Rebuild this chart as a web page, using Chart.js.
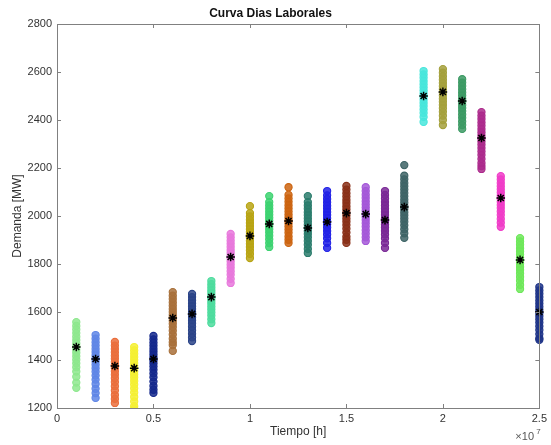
<!DOCTYPE html>
<html>
<head>
<meta charset="utf-8">
<script src="https://cdn.jsdelivr.net/npm/chart.js@4/dist/chart.umd.min.js"></script>
<style>
  body { margin: 0; background: #fff; }
  #grafico { display: block; }
</style>
</head>
<body>
<canvas id="grafico" width="551" height="445"></canvas>
<script>
// Posición de cada columna en el eje X (tiempo en horas)
const tiempo = [1e6, 2e6, 3e6, 4e6, 5e6, 6e6, 7e6, 8e6, 9e6, 10e6, 11e6, 12e6, 13e6,
                14e6, 15e6, 16e6, 17e6, 18e6, 19e6, 20e6, 21e6, 22e6, 23e6, 24e6, 25e6];

const demanda = [
  [1558, 1542, 1527, 1512, 1497, 1483, 1469, 1456, 1443, 1430, 1416, 1401, 1386, 1370, 1352, 1330, 1306, 1284],
  [1504, 1489, 1474, 1460, 1446, 1433, 1420, 1407, 1394, 1380, 1366, 1351, 1335, 1318, 1300, 1280, 1262, 1242],
  [1475, 1460, 1446, 1432, 1418, 1405, 1392, 1379, 1366, 1353, 1339, 1324, 1308, 1291, 1273, 1254, 1238, 1221],
  [1454, 1440, 1426, 1413, 1400, 1388, 1376, 1364, 1352, 1340, 1327, 1313, 1298, 1282, 1265, 1246, 1227, 1208, 1196],
  [1500, 1486, 1472, 1459, 1446, 1434, 1422, 1410, 1398, 1386, 1373, 1359, 1344, 1328, 1310, 1292, 1276, 1263],
  [1683, 1668, 1654, 1640, 1626, 1613, 1600, 1588, 1576, 1564, 1551, 1537, 1522, 1506, 1489, 1474, 1462, 1438],
  [1675, 1662, 1649, 1636, 1624, 1612, 1600, 1589, 1578, 1566, 1553, 1539, 1524, 1509, 1494, 1479],
  [1729, 1716, 1703, 1691, 1679, 1668, 1657, 1646, 1635, 1623, 1611, 1598, 1585, 1570, 1554],
  [1925, 1911, 1897, 1884, 1871, 1858, 1846, 1834, 1822, 1810, 1797, 1784, 1770, 1755, 1738, 1721],
  [2041, 2012, 1998, 1984, 1971, 1958, 1945, 1933, 1921, 1909, 1897, 1884, 1871, 1857, 1842, 1825],
  [2083, 2058, 2044, 2031, 2018, 2005, 1993, 1981, 1969, 1957, 1945, 1932, 1918, 1903, 1887, 1871],
  [2120, 2088, 2073, 2059, 2045, 2032, 2019, 2006, 1994, 1982, 1970, 1957, 1944, 1930, 1915, 1901, 1888],
  [2083, 2058, 2044, 2030, 2016, 2003, 1990, 1977, 1964, 1951, 1938, 1925, 1911, 1896, 1880, 1863, 1846],
  [2104, 2086, 2071, 2057, 2043, 2030, 2017, 2004, 1991, 1978, 1965, 1952, 1938, 1923, 1907, 1888, 1867],
  [2125, 2110, 2095, 2081, 2067, 2054, 2041, 2028, 2015, 2002, 1989, 1976, 1962, 1947, 1931, 1914, 1901, 1888],
  [2120, 2104, 2089, 2075, 2061, 2048, 2035, 2022, 2009, 1996, 1983, 1970, 1956, 1941, 1926, 1911, 1896],
  [2104, 2088, 2073, 2058, 2044, 2030, 2017, 2004, 1991, 1978, 1965, 1952, 1938, 1923, 1907, 1888, 1867],
  [2212, 2168, 2153, 2138, 2124, 2110, 2096, 2082, 2068, 2055, 2042, 2029, 2016, 2003, 1990, 1976, 1961, 1945, 1928, 1909],
  [2604, 2590, 2576, 2562, 2549, 2536, 2523, 2510, 2497, 2484, 2471, 2458, 2444, 2429, 2413, 2392],
  [2612, 2597, 2582, 2568, 2554, 2541, 2528, 2515, 2502, 2489, 2476, 2463, 2449, 2434, 2418, 2400, 2379],
  [2570, 2556, 2542, 2528, 2515, 2502, 2489, 2476, 2463, 2450, 2437, 2423, 2409, 2394, 2379, 2363],
  [2433, 2418, 2404, 2390, 2376, 2362, 2349, 2336, 2323, 2310, 2297, 2283, 2269, 2254, 2238, 2221, 2208, 2196],
  [2166, 2152, 2138, 2124, 2111, 2098, 2085, 2072, 2059, 2046, 2033, 2019, 2004, 1988, 1972, 1955],
  [1908, 1894, 1880, 1866, 1853, 1840, 1827, 1814, 1801, 1788, 1775, 1761, 1746, 1730, 1713, 1696],
  [1704, 1690, 1676, 1662, 1648, 1635, 1622, 1609, 1596, 1583, 1570, 1556, 1541, 1525, 1508, 1491, 1484]
];

// Valor medio de cada columna (asteriscos negros)
const media = [1454, 1404, 1375, 1366, 1404, 1575, 1592, 1662, 1829, 1917, 1967, 1979, 1950,
               1975, 2012, 2008, 1983, 2037, 2500, 2517, 2479, 2325, 2075, 1817, 1600];

// Color de cada columna
const colores = ['#8ee88e', '#5f86e6', '#ea6e3c', '#f5f032', '#14288c', '#a8703a', '#2b4488',
                 '#4ddc9e', '#e878dc', '#b8a414', '#3cd270', '#cc6410', '#2a7c6c', '#2222e6',
                 '#8a3018', '#a458d8', '#7a2896', '#3e6466', '#48e6dc', '#a4a03c', '#3c9a64',
                 '#ac2a8c', '#f03cc8', '#6ee85a', '#1e3488'];

// Etiquetas de los ejes
const ticksY = [1200, 1400, 1600, 1800, 2000, 2200, 2400, 2600, 2800];
const ticksX = [0, 5e6, 10e6, 15e6, 20e6, 25e6];

const COLOR_EJE = '#808080';
const COLOR_TEXTO = '#333333';

// Convierte un color hex a rgba con transparencia
function conAlfa(hex, a) {
    const r = parseInt(hex.slice(1, 3), 16);
    const g = parseInt(hex.slice(3, 5), 16);
    const b = parseInt(hex.slice(5, 7), 16);
    return `rgba(${r}, ${g}, ${b}, ${a})`;
}

// Caja de ejes estilo MATLAB con marcas hacia dentro y el factor x10^7
const cajaMatlab = {
    id: 'cajaMatlab',
    afterDraw(chart) {
        const { ctx, chartArea: a, scales } = chart;
        const largo = 4;
        ctx.save();
        ctx.strokeStyle = COLOR_EJE;
        ctx.lineWidth = 1;
        ctx.strokeRect(Math.round(a.left) + 0.5, Math.round(a.top) + 0.5,
                       Math.round(a.right - a.left), Math.round(a.bottom - a.top));
        ctx.beginPath();
        ticksX.forEach(v => {
            const x = Math.round(scales.x.getPixelForValue(v)) + 0.5;
            ctx.moveTo(x, a.bottom); ctx.lineTo(x, a.bottom - largo);
            ctx.moveTo(x, a.top); ctx.lineTo(x, a.top + largo);
        });
        ticksY.forEach(v => {
            const y = Math.round(scales.y.getPixelForValue(v)) + 0.5;
            ctx.moveTo(a.left, y); ctx.lineTo(a.left + largo, y);
            ctx.moveTo(a.right, y); ctx.lineTo(a.right - largo, y);
        });
        ctx.stroke();

        // multiplicador del eje X
        ctx.fillStyle = '#555';
        ctx.textBaseline = 'alphabetic';
        ctx.textAlign = 'left';
        ctx.font = '11px "Liberation Sans", Arial, sans-serif';
        ctx.fillText('\u00d710', a.right - 24, 440);
        ctx.font = '8px "Liberation Sans", Arial, sans-serif';
        ctx.fillText('7', a.right - 3, 434);
        ctx.restore();
    }
};

const conjuntos = [{
    label: 'media',
    data: tiempo.map((t, i) => ({ x: t, y: media[i] })),
    pointStyle: 'star',
    pointRadius: 4.3,
    borderColor: '#000',
    borderWidth: 1.5,
    showLine: false
}];

tiempo.forEach((t, i) => {
    conjuntos.push({
        label: 'h' + (i + 1),
        data: demanda[i].map(v => ({ x: t, y: v })),
        pointStyle: 'circle',
        pointRadius: 3.6,
        borderWidth: 1.1,
        borderColor: colores[i],
        backgroundColor: conAlfa(colores[i], 0.85),
        showLine: false
    });
});

Chart.defaults.font.family = '"Liberation Sans", Arial, Helvetica, sans-serif';

new Chart(document.getElementById('grafico'), {
    type: 'scatter',
    data: { datasets: conjuntos },
    plugins: [cajaMatlab],
    options: {
        responsive: false,
        animation: false,
        layout: { padding: { left: 0, right: 10, top: 0, bottom: 0 } },
        datasets: { scatter: { clip: { left: 6, top: 6, right: 10, bottom: 0 } } },
        plugins: {
            legend: { display: false },
            tooltip: { enabled: false },
            title: {
                display: true,
                text: 'Curva Dias Laborales',
                color: '#111',
                font: { size: 12, weight: 'bold' },
                padding: { top: 6, bottom: 3.6 }
            }
        },
        scales: {
            x: {
                type: 'linear',
                min: 0,
                max: 25e6,
                afterBuildTicks: s => { s.ticks = ticksX.map(v => ({ value: v })); },
                afterFit: s => { s.height = 37; },
                grid: { display: false, drawTicks: false },
                border: { display: false },
                ticks: {
                    color: COLOR_TEXTO,
                    font: { size: 11 },
                    padding: 4,
                    maxRotation: 0,
                    callback: v => String(v / 1e7)
                },
                title: {
                    display: true,
                    text: 'Tiempo [h]',
                    color: COLOR_TEXTO,
                    font: { size: 12 },
                    padding: { top: 0, bottom: 6 }
                }
            },
            y: {
                min: 1200,
                max: 2800,
                afterBuildTicks: s => { s.ticks = ticksY.map(v => ({ value: v })); },
                afterFit: s => { s.width = 57; },
                grid: { display: false, drawTicks: false },
                border: { display: false },
                ticks: {
                    color: COLOR_TEXTO,
                    font: { size: 11 },
                    padding: 5,
                    callback: v => String(v)
                },
                title: {
                    display: true,
                    text: 'Demanda [MW]',
                    color: COLOR_TEXTO,
                    font: { size: 12 },
                    padding: { top: 10, bottom: 0 }
                }
            }
        }
    }
});
</script>
</body>
</html>
